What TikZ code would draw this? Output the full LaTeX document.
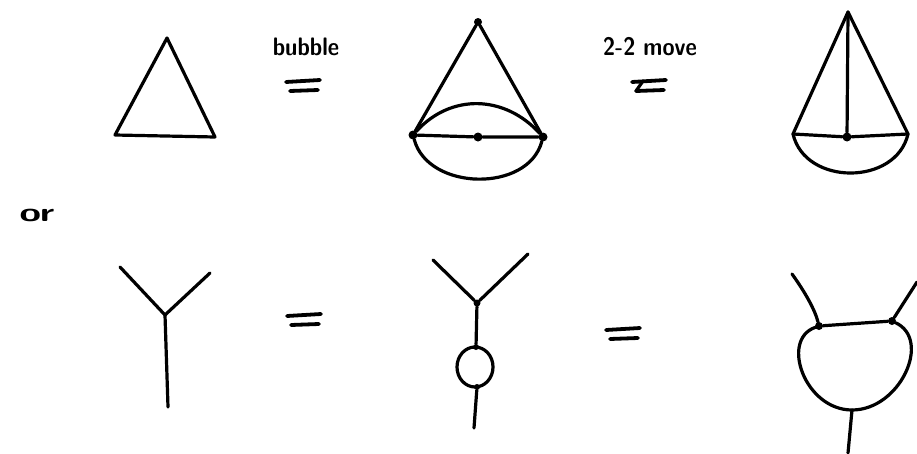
\documentclass[tikz,border=0pt]{standalone}
\usepackage{tikz}
\usetikzlibrary{calc}
\tikzset{
  edge/.style={line width=3.2pt, line cap=round, line join=round},
  vtx/.style={circle, fill, inner sep=0pt, minimum size=9pt},
  eqs/.style={line width=3.8pt, line cap=round},
  hand/.style={font=\sffamily\bfseries\fontsize{22}{22}\selectfont, yscale=1.15},
  equal/.pic={
    \draw[eqs] (-16,-4) -- (18,-6);
    \draw[eqs] (-12,5) -- (16,4);
  },
}

\begin{document}
\begin{tikzpicture}[x=1pt,y=-1pt]
\useasboundingbox (0,0) rectangle (917,453);

% --- TOP: triangle ---
\coordinate (ta) at (167,38);
\coordinate (tl) at (115,135);
\coordinate (tr) at (215,137);
\draw[edge] (ta) -- (tl) -- (tr) -- cycle;

% --- bubble ---
\node[hand] (bub) at (306,47) {bubble};
\pic (eqbub) at (302,86) {equal};

% --- TOP: bubble on the base ---
\node[vtx, minimum size=8pt] (ma) at (478,22) {};
\node[vtx] (ml) at (413,135) {};
\node[vtx] (mr) at (543,137) {};
\node[vtx] (mm) at (478,137) {};
\draw[edge] (ma) -- (ml);
\draw[edge] (ma) -- (mr);
\draw[edge] (ml) -- (mm) -- (mr);
\draw[edge] (ml) .. controls +(38,-42) and +(-38,-42) .. (mr);
\draw[edge] (ml) .. controls +(15,56) and +(-15,56) .. (mr);

% --- 2-2 move ---
\node[hand] (move) at (650,47) {2-2 move};
\pic (eqmove) at (648,86) {equal};
\coordinate (zt) at (643,81);
\coordinate (zb) at (636,91);
\draw[edge] (zt) -- (zb);

% --- TOP: after the move ---
\coordinate (ra) at (848,12);
\coordinate (rl) at (793,134);
\coordinate (rr) at (908,134);
\node[vtx] (rm) at (847,137) {};
\draw[edge] (rl) -- (ra) -- (rr);
\draw[edge] (ra) -- (rm);
\draw[edge] (rl) -- (rm) -- (rr);
\draw[edge] (rl) .. controls +(12,52) and +(-12,52) .. (rr);

% --- or ---
\node[font=\sffamily\bfseries\fontsize{26}{26}\selectfont, xscale=1.5] (or) at (37,215) {or};

% --- BOTTOM: vertex ---
\coordinate (ya) at (120,267);
\coordinate (yb) at (210,273);
\coordinate (yj) at (165,315);
\coordinate (yf) at (168,407);
\draw[edge] (ya) -- (yj) -- (yb);
\draw[edge] (yj) -- (yf);

\pic (eqlow) at (303,320) {equal};

% --- BOTTOM: vertex with loop ---
\coordinate (la) at (433,260);
\coordinate (lb) at (528,254);
\node[vtx, minimum size=7pt] (lj) at (477,303) {};
\node[vtx, minimum size=6pt] (lt) at (476,347) {};
\node[vtx, minimum size=6pt] (lu) at (477,387) {};
\coordinate (lf) at (474,428);
\coordinate (loop) at (475,367);
\draw[edge] (la) -- (lj) -- (lb);
\draw[edge] (lj) -- (lt);
\draw[edge] (loop) ellipse [x radius=18pt, y radius=20pt];
\draw[edge] (lu) -- (lf);

\pic (eqlow2) at (622,334) {equal};

% --- BOTTOM: loop on the vertex ---
\coordinate (ka) at (792,274);
\coordinate (kb) at (917,282);
\node[vtx, minimum size=8pt] (kl) at (819,326) {};
\node[vtx, minimum size=8pt] (kr) at (892,321) {};
\coordinate (kbot) at (852,410);
\coordinate (kf) at (848,453);
\draw[edge] (ka) .. controls (805,292) and (815,310) .. (kl);
\draw[edge] (kr) -- (kb);
\draw[edge] (kl) -- (kr);
\draw[edge] (kl) .. controls (780,340) and (805,410) .. (kbot)
  .. controls (900,410) and (932,340) .. (kr);
\draw[edge] (kbot) -- (kf);

\end{tikzpicture}
\end{document}
